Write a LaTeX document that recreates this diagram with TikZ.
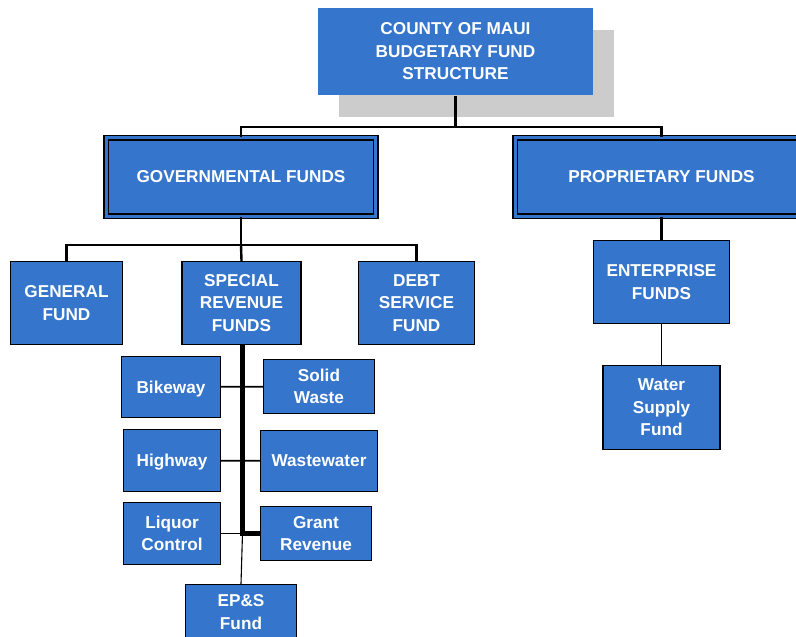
\documentclass[tikz,border=0pt]{standalone}
\usepackage{fontspec}
\setmainfont{Liberation Sans}
\usetikzlibrary{shadows}
\definecolor{fundblue}{RGB}{53,117,204}
\tikzset{
  fund/.style={draw=black, line width=1.6pt, fill=fundblue, text=white, align=center, inner sep=0pt,
    font=\bfseries\fontsize{17.2}{22.5}\selectfont},
  group/.style={fund, line width=1.2pt, double=fundblue, double distance=3.3pt},
  bus/.style={line width=2.4pt},
  trunk/.style={line width=4.5pt},
  twig/.style={line width=1.8pt}
}

\begin{document}
\begin{tikzpicture}[x=1pt, y=-1pt]
\useasboundingbox (0,0) rectangle (796,637);
\clip (0,0) rectangle (796,637);
\node[fund, draw=none, minimum width=275pt, minimum height=87pt,
  drop shadow={shadow xshift=21pt, shadow yshift=-22pt, fill=black!20, opacity=1}] (top) at (455.5,51.5) {COUNTY OF MAUI\\BUDGETARY FUND\\STRUCTURE};
\node[group, minimum width=269.5pt, minimum height=78.5pt] (gov) at (241,177) {GOVERNMENTAL FUNDS};
\node[group, minimum width=292.5pt, minimum height=78.5pt] (prop) at (661.5,177) {PROPRIETARY FUNDS};
\node[fund, minimum width=111.7pt, minimum height=82.7pt] (general) at (66.5,303) {GENERAL\\FUND};
\node[fund, minimum width=118.7pt, minimum height=82.7pt] (special) at (241.5,303) {SPECIAL\\REVENUE\\FUNDS};
\node[fund, minimum width=115.7pt, minimum height=82.7pt] (debt) at (416.5,303) {DEBT\\SERVICE\\FUND};
\node[fund, minimum width=135.7pt, minimum height=82.7pt] (enterprise) at (661.5,282) {ENTERPRISE\\FUNDS};
\node[fund, minimum width=116.7pt, minimum height=83.7pt] (water) at (661.5,407.5) {Water\\Supply\\Fund};
\node[fund, minimum width=98.7pt, minimum height=60.7pt, text depth=0pt] (bikeway) at (171,387) {Bikeway};
\node[fund, minimum width=110.7pt, minimum height=53.7pt] (solid) at (319,386.5) {Solid\\Waste};
\node[fund, minimum width=96.7pt, minimum height=61.7pt, text depth=0pt] (highway) at (172,460.5) {Highway};
\node[fund, minimum width=116.7pt, minimum height=60.7pt, text depth=0pt] (waste) at (319,461) {Wastewater};
\node[fund, minimum width=96.7pt, minimum height=61.7pt] (liquor) at (172,533.5) {Liquor\\Control};
\node[fund, minimum width=110.7pt, minimum height=53.7pt] (grant) at (316,533.5) {Grant\\Revenue};
\node[fund, minimum width=110.7pt, minimum height=54.7pt] (eps) at (241,612) {EP\&S\\Fund};
\coordinate (bus1) at (455.5,127);
\coordinate (bus2) at (241,245);
\coordinate (srjoin) at (242.5,533.5);
\draw[bus] (top) -- (bus1);
\draw[bus] (gov.north) |- (bus1) -| (prop.north);
\draw[bus] (gov) -- (bus2);
\draw[bus] (general.north) |- (bus2) -| (debt.north);
\draw[bus] (bus2) -- (special.north);
\draw[bus] (prop) -- (enterprise);
\draw[line width=1.5pt] (enterprise) -- (water);
\draw[twig] (bikeway) -- (solid);
\draw[twig] (highway) -- (waste);
\draw[twig] (liquor) -- (srjoin);
\draw[trunk] (special.south -| srjoin) -- (srjoin) -- (grant.west);
\draw[line width=1.1pt] (srjoin) -- (eps.north);
\end{tikzpicture}
\end{document}
